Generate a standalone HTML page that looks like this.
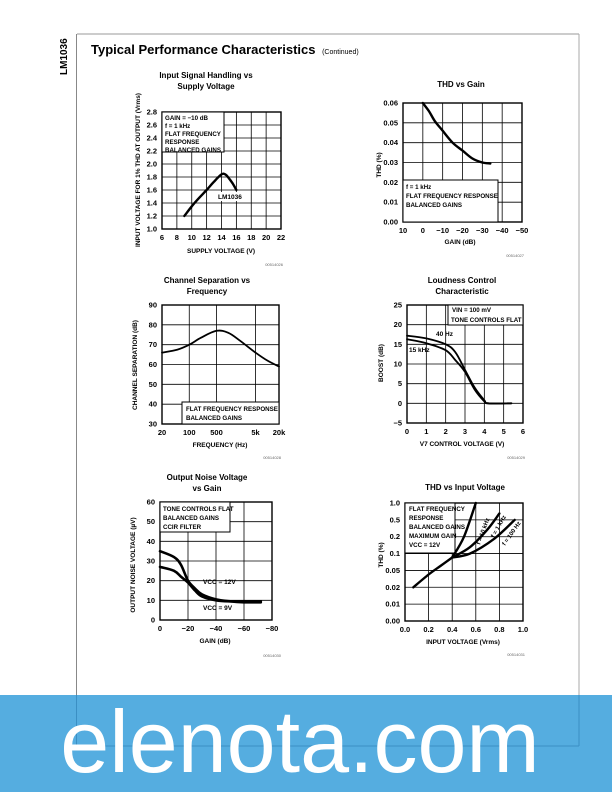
<!DOCTYPE html>
<html><head><meta charset="utf-8">
<style>
html,body{margin:0;padding:0;background:#fff;}
#page{position:relative;width:612px;height:792px;overflow:hidden;font-family:"Liberation Sans",sans-serif;}
svg text{font-family:"Liberation Sans Narrow","Liberation Sans",sans-serif;}
</style></head>
<body>
<div id="page">
<svg id="svg" width="612" height="792" viewBox="0 0 612 792">
  <line x1="77" y1="34" x2="579" y2="34" stroke="#999" stroke-width="1"/>
  <line x1="76.5" y1="34" x2="76.5" y2="746" stroke="#888" stroke-width="1"/>
  <line x1="579" y1="34" x2="579" y2="746" stroke="#aaa" stroke-width="1"/>
  <text x="67" y="75" transform="rotate(-90 67 75)" font-size="10" font-weight="bold" style="font-family:'Liberation Sans',sans-serif">LM1036</text>
  <text x="91" y="54" font-size="13" font-weight="bold" style="font-family:'Liberation Sans',sans-serif">Typical Performance Characteristics <tspan font-size="7" font-weight="normal" dx="3">(Continued)</tspan></text>
  <g id="charts"></g>
  <rect x="0" y="695" width="612" height="97" fill="#55ade0"/>
  <line x1="76.5" y1="695" x2="76.5" y2="746" stroke="#3b8fc4" stroke-width="1"/>
  <line x1="579" y1="695" x2="579" y2="746" stroke="#3b8fc4" stroke-width="1"/>
  <line x1="76.5" y1="746" x2="579" y2="746" stroke="#3b8fc4" stroke-width="1"/>
  <text x="300" y="772" text-anchor="middle" font-size="88" fill="#fff" style="font-family:'Liberation Sans',sans-serif">elenota.com</text>
</svg>
</div>
<script>
// ---- Chart 1: Input Signal Handling vs Supply Voltage
const c1XTicks=[6,8,10,12,14,16,18,20,22];
const c1YTicks=[1.0,1.2,1.4,1.6,1.8,2.0,2.2,2.4,2.6,2.8];
const c1YLabels=["1.0","1.2","1.4","1.6","1.8","2.0","2.2","2.4","2.6","2.8"];
const c1X=[9,10,11,12,13,14,14.5,15,15.5,16];
const c1Y=[1.2,1.35,1.48,1.6,1.73,1.84,1.84,1.78,1.7,1.6];
// ---- Chart 2: THD vs Gain
const c2XTicks=[10,0,-10,-20,-30,-40,-50];
const c2XLabels=["10","0","−10","−20","−30","−40","−50"];
const c2YTicks=[0,0.01,0.02,0.03,0.04,0.05,0.06];
const c2YLabels=["0.00","0.01","0.02","0.03","0.04","0.05","0.06"];
const c2X=[0,-3,-6,-10,-15,-20,-25,-30,-34];
const c2Y=[0.06,0.056,0.051,0.046,0.04,0.036,0.032,0.03,0.0295];
// ---- Chart 3: Channel Separation vs Frequency
const c3XTicks=[20,100,500,5000,20000];
const c3XLabels=["20","100","500","5k","20k"];
const c3YTicks=[30,40,50,60,70,80,90];
const c3X=[20,50,100,200,500,1000,2000,5000,10000,20000];
const c3Y=[66,67.5,70,73.5,77,76,72,66,62,59];
// ---- Chart 4: Loudness Control Characteristic
const c4XTicks=[0,1,2,3,4,5,6];
const c4YTicks=[-5,0,5,10,15,20,25];
const c4YLabels=["−5","0","5","10","15","20","25"];
const c4X=[0,1,2,2.5,3,3.5,4,4.2,5.4];
const c4Y40=[17.2,16.5,15,13,8.5,4,0.8,0,0];
const c4Y15k=[16.3,15.3,13.5,11,8,3.5,0.5,0,0];
// ---- Chart 5: Output Noise Voltage vs Gain
const c5XTicks=[0,-20,-40,-60,-80];
const c5XLabels=["0","−20","−40","−60","−80"];
const c5YTicks=[0,10,20,30,40,50,60];
const c5X=[0,-10,-15,-20,-25,-30,-40,-50,-60,-72];
const c5Y12=[35,32,28,20,16,13,10.5,9.5,9,9];
const c5Y9=[27,25,22,19,15,12,10,9.5,9.5,9.5];
// ---- Chart 6: THD vs Input Voltage
const c6XTicks=[0,0.2,0.4,0.6,0.8,1.0];
const c6XLabels=["0.0","0.2","0.4","0.6","0.8","1.0"];
const c6YTicks=[0.005,0.01,0.02,0.05,0.1,0.2,0.5,1.0];
const c6YLabels=["0.00","0.01","0.02","0.05","0.1","0.2","0.5","1.0"];
const c6XCommon=[0.07,0.2,0.3,0.4];
const c6YCommon=[0.02,0.04,0.06,0.085];
const c6X10k=[0.4,0.5,0.6];
const c6Y10k=[0.085,0.2,1.0];
const c6X1k=[0.4,0.55,0.7,0.8];
const c6Y1k=[0.085,0.13,0.3,0.65];
const c6X100=[0.4,0.55,0.75,0.93];
const c6Y100=[0.085,0.1,0.18,0.5];

const NS="http://www.w3.org/2000/svg";
const root=document.getElementById('charts');
function mk(tag,attrs,parent,text){const e=document.createElementNS(NS,tag);for(const k in attrs)e.setAttribute(k,attrs[k]);if(text!==undefined)e.textContent=text;(parent||root).appendChild(e);return e;}
function lin(d0,d1,p0,p1){return v=>p0+(v-d0)/(d1-d0)*(p1-p0);}
function logs(d0,d1,p0,p1){return v=>p0+(Math.log10(v)-Math.log10(d0))/(Math.log10(d1)-Math.log10(d0))*(p1-p0);}
function piece(ticks,p0,p1){const n=ticks.length-1;return v=>{let i=0;while(i<n-1&&v>ticks[i+1])i++;const f=(Math.log10(v)-Math.log10(ticks[i]))/(Math.log10(ticks[i+1])-Math.log10(ticks[i]));return p0+(i+f)/n*(p1-p0);};}

function axes(id,L,R,T,B,sx,sy,xt,xl,yt,yl){
  const g=mk('g',{});
  
  
  xt.forEach((v,i)=>{const x=sx(v);
    const ln=mk('line',{x1:x,y1:T,x2:x,y2:B,stroke:'#000','stroke-width':0.8},g);
    
    
    const t=mk('text',{x:x,y:B+11,'text-anchor':'middle','font-size':7.5,'font-weight':'bold'},g,xl[i]);
    
    });
  yt.forEach((v,i)=>{const y=sy(v);
    const ln=mk('line',{x1:L,y1:y,x2:R,y2:y,stroke:'#000','stroke-width':0.8},g);
    
    
    const t=mk('text',{x:L-5,y:y+2.5,'text-anchor':'end','font-size':7.5,'font-weight':'bold'},g,yl[i]);
    
    });
  const r=mk('rect',{x:L,y:T,width:R-L,height:B-T,fill:'none',stroke:'#000','stroke-width':1.4},g);
  
  
}
function curve(id,xs,ys,sx,sy,w){
  const P=xs.map((x,i)=>[sx(x),sy(ys[i])]);
  let d='M'+P[0][0].toFixed(1)+','+P[0][1].toFixed(1);
  for(let i=0;i<P.length-1;i++){
    const p0=P[Math.max(0,i-1)],p1=P[i],p2=P[i+1],p3=P[Math.min(P.length-1,i+2)];
    const c1=[p1[0]+(p2[0]-p0[0])/6,p1[1]+(p2[1]-p0[1])/6];
    const c2=[p2[0]-(p3[0]-p1[0])/6,p2[1]-(p3[1]-p1[1])/6];
    d+='C'+c1[0].toFixed(1)+','+c1[1].toFixed(1)+' '+c2[0].toFixed(1)+','+c2[1].toFixed(1)+' '+p2[0].toFixed(1)+','+p2[1].toFixed(1);
  }
  const p=mk('path',{d:d,fill:'none',stroke:'#000','stroke-width':w||2.4,'stroke-linejoin':'round','stroke-linecap':'round'});
  
  
}
function txt(name,x,y,s,opts){const o=Object.assign({x:x,y:y,'font-size':7,'font-weight':'bold'},opts||{});const t=mk('text',o,root,s);
  
  return t;}
function box(name,x,y,w,h){const r=mk('rect',{x:x,y:y,width:w,height:h,fill:'#fff',stroke:'#000','stroke-width':1});
  
  }
function title(name,cx,lines,y0){lines.forEach((l,i)=>txt(name,cx,y0+i*11,l,{'text-anchor':'middle','font-size':8,style:"font-family:'Liberation Sans',sans-serif"}));}
function ylab(name,x,cy,s){txt(name,x,cy,s,{'text-anchor':'middle','font-size':6.5,transform:`rotate(-90 ${x} ${cy})`});}
function code(name,x,y,s){txt(name,x,y,s,{'text-anchor':'end','font-size':4,'font-weight':'normal',fill:'#666'});}

// Chart 1
{const L=162,R=281,T=112,B=229;const sx=lin(6,22,L,R),sy=lin(1.0,2.8,B,T);
 title('chart1-title',206,['Input Signal Handling vs','Supply Voltage'],78);
 axes('chart1',L,R,T,B,sx,sy,c1XTicks,c1XTicks.map(String),c1YTicks,c1YLabels);
 box('chart1-annotation-box',L,T,62,40);
 ['GAIN = −10 dB','f = 1 kHz','FLAT FREQUENCY','RESPONSE','BALANCED GAINS'].forEach((s,i)=>txt('chart1-annotation',L+3,T+8+i*8,s,{'font-size':6.2}));
 curve('chart1-lm1036-curve',c1X,c1Y,sx,sy);
 const lb=mk('rect',{x:216,y:192,width:26,height:9,fill:'#fff'});
 
 
 txt('chart1-series-label',218,199,'LM1036',{'font-size':6.5});
 txt('chart1-x-axis-title',221,253,'SUPPLY VOLTAGE (V)',{'text-anchor':'middle','font-size':6.5});
 ylab('chart1-y-axis-title',140,170,'INPUT VOLTAGE FOR 1% THD AT OUTPUT (Vrms)');
 code('chart1-code',283,266,'00514026');}
// Chart 2
{const L=403,R=522,T=103,B=222;const sx=lin(10,-50,L,R),sy=lin(0,0.06,B,T);
 title('chart2-title',461,['THD vs Gain'],87);
 axes('chart2',L,R,T,B,sx,sy,c2XTicks,c2XLabels,c2YTicks,c2YLabels);
 box('chart2-annotation-box',L,180,95,42);
 ['f = 1 kHz','FLAT FREQUENCY RESPONSE','BALANCED GAINS'].forEach((s,i)=>txt('chart2-annotation',L+3,189+i*9,s,{'font-size':6.2}));
 curve('chart2-thd-curve',c2X,c2Y,sx,sy);
 txt('chart2-x-axis-title',460,244,'GAIN (dB)',{'text-anchor':'middle','font-size':6.5});
 ylab('chart2-y-axis-title',381,165,'THD (%)');
 code('chart2-code',524,257,'00514027');}
// Chart 3
{const L=162,R=279,T=305,B=424;const sx=logs(20,20000,L,R),sy=lin(30,90,B,T);
 title('chart3-title',207,['Channel Separation vs','Frequency'],283);
 axes('chart3',L,R,T,B,sx,sy,c3XTicks,c3XLabels,c3YTicks,c3YTicks.map(String));
 box('chart3-annotation-box',182,402,97,22);
 ['FLAT FREQUENCY RESPONSE','BALANCED GAINS'].forEach((s,i)=>txt('chart3-annotation',186,411+i*9,s,{'font-size':6.2}));
 curve('chart3-separation-curve',c3X,c3Y,sx,sy,1.8);
 txt('chart3-x-axis-title',220,447,'FREQUENCY (Hz)',{'text-anchor':'middle','font-size':6.5});
 ylab('chart3-y-axis-title',137,365,'CHANNEL SEPARATION (dB)');
 code('chart3-code',281,459,'00514028');}
// Chart 4
{const L=407,R=523,T=305,B=423;const sx=lin(0,6,L,R),sy=lin(-5,25,B,T);
 title('chart4-title',462,['Loudness Control','Characteristic'],283);
 axes('chart4',L,R,T,B,sx,sy,c4XTicks,c4XTicks.map(String),c4YTicks,c4YLabels);
 box('chart4-annotation-box',448,T,75,20);
 txt('chart4-annotation',452,312,'VIN = 100 mV',{'font-size':6.2});
 txt('chart4-annotation',451,322,'TONE CONTROLS FLAT',{'font-size':6.2});
 curve('chart4-40hz-curve',c4X,c4Y40,sx,sy,1.8);
 curve('chart4-15khz-curve',c4X,c4Y15k,sx,sy,1.8);
 txt('chart4-40hz-label',436,336,'40 Hz',{'font-size':6.5});
 txt('chart4-15khz-label',409,352,'15 kHz',{'font-size':6.5});
 txt('chart4-x-axis-title',462,446,'V7  CONTROL VOLTAGE (V)',{'text-anchor':'middle','font-size':6.5});
 ylab('chart4-y-axis-title',383,363,'BOOST (dB)');
 code('chart4-code',525,459,'00514029');}
// Chart 5
{const L=160,R=272,T=502,B=620;const sx=lin(0,-80,L,R),sy=lin(0,60,B,T);
 title('chart5-title',207,['Output Noise Voltage','vs Gain'],480);
 axes('chart5',L,R,T,B,sx,sy,c5XTicks,c5XLabels,c5YTicks,c5YTicks.map(String));
 box('chart5-annotation-box',L,T,70,30);
 ['TONE CONTROLS FLAT','BALANCED GAINS','CCIR FILTER'].forEach((s,i)=>txt('chart5-annotation',163,511+i*9,s,{'font-size':6.2}));
 curve('chart5-vcc12-curve',c5X,c5Y12,sx,sy,2.6);
 curve('chart5-vcc9-curve',c5X,c5Y9,sx,sy,2.6);
 txt('chart5-vcc12-label',203,584,'VCC = 12V',{'font-size':6.5});
 txt('chart5-vcc9-label',203,610,'VCC = 9V',{'font-size':6.5});
 txt('chart5-x-axis-title',215,643,'GAIN (dB)',{'text-anchor':'middle','font-size':6.5});
 ylab('chart5-y-axis-title',135,565,'OUTPUT NOISE VOLTAGE (µV)');
 code('chart5-code',281,657,'00514030');}
// Chart 6
{const L=405,R=523,T=503,B=621;const sx=lin(0,1,L,R),sy=piece(c6YTicks,B,T);
 title('chart6-title',465,['THD vs Input Voltage'],490);
 axes('chart6',L,R,T,B,sx,sy,c6XTicks,c6XLabels,c6YTicks,c6YLabels);
 box('chart6-annotation-box',L,T,50,50);
 ['FLAT FREQUENCY','RESPONSE','BALANCED GAINS','MAXIMUM GAIN','VCC = 12V'].forEach((s,i)=>txt('chart6-annotation',409,511+i*9,s,{'font-size':6.2}));
 curve('chart6-common-curve',c6XCommon,c6YCommon,sx,sy,2.4);
 curve('chart6-10khz-curve',c6X10k,c6Y10k,sx,sy,2.4);
 curve('chart6-1khz-curve',c6X1k,c6Y1k,sx,sy,2.4);
 curve('chart6-100hz-curve',c6X100,c6Y100,sx,sy,2.4);
 txt('chart6-10khz-label',480,545,'f = 10 kHz',{'font-size':6,transform:'rotate(-70 480 545)'});
 txt('chart6-1khz-label',494,538,'f = 1 kHz',{'font-size':6,transform:'rotate(-60 494 538)'});
 txt('chart6-100hz-label',505,546,'f = 100 Hz',{'font-size':6,transform:'rotate(-55 505 546)'});
 txt('chart6-x-axis-title',463,644,'INPUT VOLTAGE (Vrms)',{'text-anchor':'middle','font-size':6.5});
 ylab('chart6-y-axis-title',383,555,'THD (%)');
 code('chart6-code',525,656,'00514031');}
</script>
</body></html>
